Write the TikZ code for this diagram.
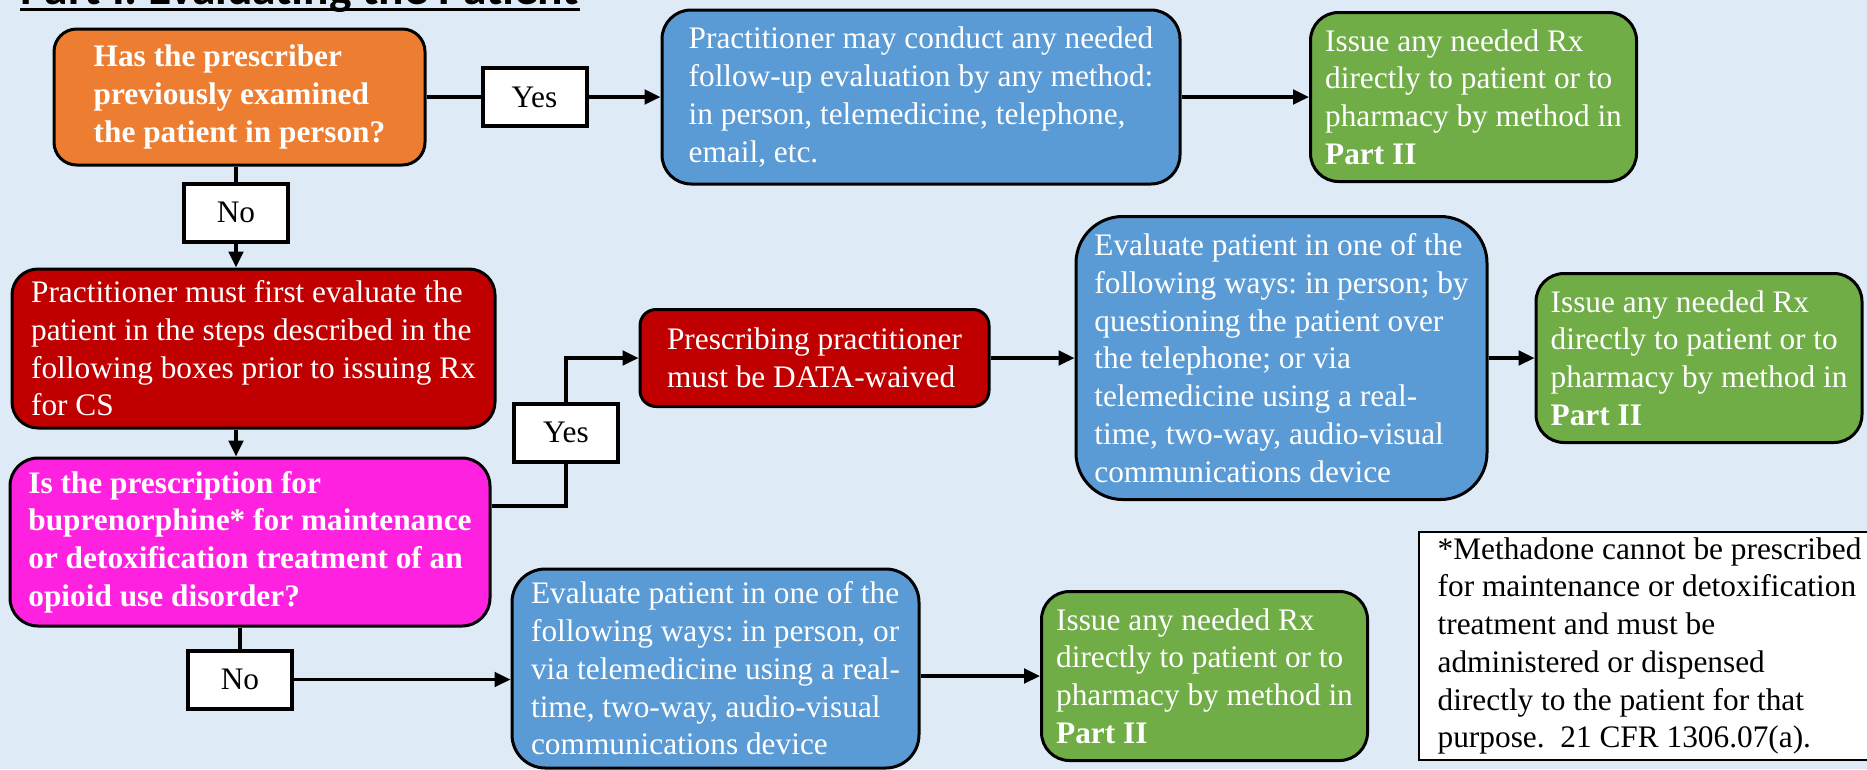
\documentclass[tikz,border=0pt]{standalone}
\usepackage{fontspec}
\setmainfont{Liberation Serif}
\newfontfamily\titlefont{Carlito}
\usetikzlibrary{arrows.meta}
\frenchspacing

\definecolor{bgblue}{HTML}{DEEBF7}
\definecolor{askorange}{HTML}{ED7D31}
\definecolor{evalblue}{HTML}{5B9BD5}
\definecolor{rxgreen}{HTML}{70AD47}
\definecolor{mustred}{HTML}{C00000}
\definecolor{askpink}{HTML}{FF21E0}

\begin{document}
\begin{tikzpicture}[x=0.75pt, y=-0.75pt,
    box/.style={draw, line width=2.25pt, text=white, align=left, inner sep=2pt,
        font=\fontsize{23.5}{28.3}\selectfont},
    bold/.style={font=\fontsize{23.5}{28.3}\selectfont\bfseries},
    rxbox/.style={box, fill=rxgreen, rounded corners=21pt, minimum width=244.5pt,
        minimum height=126.75pt},
    ans/.style={draw, fill=white, line width=3pt, minimum width=78pt,
        minimum height=43.5pt, inner sep=0pt, font=\fontsize{23.5}{28.3}\selectfont},
    link/.style={line width=2.5pt},
    arr/.style={line width=2.5pt, -{Triangle[length=12pt, width=11pt]}}]
    \useasboundingbox (0,0) rectangle (1867,769);
    \clip (0,0) rectangle (1867,769);
    \fill[bgblue] (0,0) rectangle (1867,769);

    \node[anchor=base west, inner sep=0pt,
        font=\titlefont\bfseries\fontsize{35.6}{40}\selectfont] (title) at (20,4.5)
        {Part I: Evaluating the Patient};
    \draw[line width=2pt] ([yshift=-3.75pt]title.base west) -- ([yshift=-3.75pt]title.base east);

    \node[box, bold, fill=askorange, rounded corners=17pt, minimum width=278.25pt,
        minimum height=102pt] (ask1) at (239.5,97)
        {Has the prescriber\\previously examined\\the patient in person?};
    \node[ans] (yes1) at (534.5,97) {Yes};
    \node[box, fill=evalblue, rounded corners=21.75pt, minimum width=388.5pt,
        minimum height=130.5pt] (eval1) at (921,97)
        {Practitioner may conduct any needed\\follow-up evaluation by any method:\\in person, telemedicine, telephone,\\email, etc.};
    \node[rxbox] (rx1) at (1473.5,97)
        {Issue any needed Rx\\directly to patient or to\\pharmacy by method in\\\textbf{Part II}};

    \node[ans] (no1) at (236,212.5) {No};
    \node[box, fill=mustred, rounded corners=19.5pt, minimum width=362.25pt,
        minimum height=119.25pt] (first) at (253.5,348.5)
        {Practitioner must first evaluate the\\patient in the steps described in the\\following boxes prior to issuing Rx\\for CS};
    \node[box, bold, fill=askpink, rounded corners=21pt, minimum width=360pt,
        minimum height=126pt] (ask2) at (250,542)
        {Is the prescription for\\buprenorphine* for maintenance\\or detoxification treatment of an\\opioid use disorder?};

    \node[ans] (yes2) at (566,432.5) {Yes};
    \node[box, fill=mustred, rounded corners=12pt, minimum width=261.75pt,
        minimum height=72.75pt] (waived) at (814.5,358)
        {Prescribing practitioner\\must be DATA-waived};
    \node[box, fill=evalblue, rounded corners=35pt, minimum width=308.25pt,
        minimum height=212.25pt] (eval2) at (1281.5,358)
        {Evaluate patient in one of the\\following ways: in person; by\\questioning the patient over\\the telephone; or via\\telemedicine using a real-\\time, two-way, audio-visual\\communications device};
    \node[rxbox] (rx2) at (1699,358)
        {Issue any needed Rx\\directly to patient or to\\pharmacy by method in\\\textbf{Part II}};

    \node[ans] (no2) at (240,679.5) {No};
    \node[box, fill=evalblue, rounded corners=25pt, minimum width=305.25pt,
        minimum height=149.25pt] (eval3) at (715.5,668.5)
        {Evaluate patient in one of the\\following ways: in person, or\\via telemedicine using a real-\\time, two-way, audio-visual\\communications device};
    \node[rxbox] (rx3) at (1204.5,676)
        {Issue any needed Rx\\directly to patient or to\\pharmacy by method in\\\textbf{Part II}};

    \node[box, fill=white, text=black, rounded corners=0pt, line width=2pt,
        minimum width=345.75pt, minimum height=171pt] (note) at (1649.5,646)
        {*Methadone cannot be prescribed\\for maintenance or detoxification\\treatment and must be\\administered or dispensed\\directly to the patient for that\\purpose.\ \ 21 CFR 1306.07(a).};

    \draw[arr] (ask1.east |- yes1) -- (yes1) -- (yes1 -| eval1.west);
    \draw[arr] (eval1) -- (rx1);
    \draw[link] (ask1.south -| no1) -- (no1);
    \draw[arr] (no1) -- (no1 |- first.north);
    \draw[arr] (first.south -| no1) -- (no1 |- ask2.north);
    \draw[link] ([yshift=27pt]ask2.east) -| (yes2);
    \draw[arr] (yes2) |- (waived);
    \draw[arr] (waived) -- (eval2);
    \draw[arr] (eval2) -- (rx2);
    \draw[link] (ask2.south -| no2) -- (no2);
    \draw[arr] (no2) -- (no2 -| eval3.west);
    \draw[arr] (eval3.east |- rx3) -- (rx3);
\end{tikzpicture}
\end{document}
